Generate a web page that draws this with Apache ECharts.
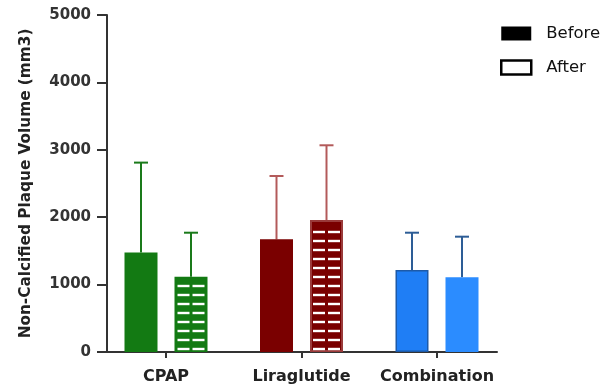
<!DOCTYPE html>
<html><head><meta charset="utf-8">
<script src="https://cdn.jsdelivr.net/npm/echarts@6/dist/echarts.min.js"></script>
<style>html,body{margin:0;padding:0;background:#fff}#c{width:610px;height:385px}</style>
</head><body><div id="c"></div>
<script>
const categories = ['CPAP', 'Liraglutide', 'Combination'];
const beforeMean = [1475, 1672, 1217];
const beforeUpper = [2810, 2611, 1770];
const afterMean = [1117, 1958, 1108];
const afterUpper = [1770, 3067, 1711];
const hatchedAfter = [true, true, false];
const yAxisName = 'Non-Calcified Plaque Volume (mm3)';
const legendNames = ['Before', 'After'];

const BAR_W = 33, GAP_PX = 17;
const fillColors = ['#137a13', '#7a0000', '#1f7ef5'];
const afterBase = ['#137a13', '#7a0000', '#2b8cff'];
const afterBorder = ['#137a13', '#9a3a3a', '#2b8cff'];
const errColors = ['#1a7a1a', '#b35a5a', '#2d5d96'];

const beforeData = beforeMean.map((v, i) => ({
  value: v,
  itemStyle: { color: fillColors[i], borderColor: i === 2 ? '#1d5aa8' : fillColors[i], borderWidth: 1.5 }
}));
const afterData = afterMean.map((v, i) => ({
  value: v,
  itemStyle: { color: afterBase[i], borderColor: afterBorder[i], borderWidth: hatchedAfter[i] ? 2 : 0 }
}));

function errSeries(name, mean, upper, sign) {
  return {
    type: 'custom', name: name, xAxisIndex: 0, yAxisIndex: 0, z: 1,
    data: mean.map((m, i) => [i, m, upper[i]]),
    renderItem: function (params, api) {
      const i = api.value(0);
      const off = sign * (BAR_W + GAP_PX) / 2;
      const p0 = api.coord([i, api.value(1)]);
      const p1 = api.coord([i, api.value(2)]);
      const x = p0[0] + off;
      const st = { stroke: errColors[i], lineWidth: 2 };
      return { type: 'group', children: [
        { type: 'line', shape: { x1: x, y1: p0[1], x2: x, y2: p1[1] }, style: st },
        { type: 'line', shape: { x1: x - 7, y1: p1[1], x2: x + 7, y2: p1[1] }, style: st }
      ]};
    }
  };
}

const hatchSeries = {
  type: 'custom', name: 'hatch', xAxisIndex: 0, yAxisIndex: 0, z: 3, silent: true,
  data: afterMean.map((m, i) => [i, m, hatchedAfter[i] ? 1 : 0]),
  renderItem: function (params, api) {
    if (!api.value(2)) return { type: 'group', children: [] };
    const i = api.value(0);
    const top = api.coord([i, api.value(1)]);
    const base = api.coord([i, 0]);
    const cx = top[0] + (BAR_W + GAP_PX) / 2;
    const x0 = cx - BAR_W / 2;
    const kids = [];
    for (let y = base[1] - 3; y > top[1] + 7; y -= 9) {
      kids.push({ type: 'rect', shape: { x: x0 + 3, y: y - 1.2, width: BAR_W / 2 - 4.5, height: 2.4 }, style: { fill: '#fff' } });
      kids.push({ type: 'rect', shape: { x: cx + 1.5, y: y - 1.2, width: BAR_W / 2 - 4.5, height: 2.4 }, style: { fill: '#fff' } });
    }
    return { type: 'group', children: kids };
  }
};

const chart = echarts.init(document.getElementById('c'));
chart.setOption({
  animation: false,
  backgroundColor: '#fff',
  grid: [
    { left: 98.25, width: 406.5, top: 15, height: 337 },
    { left: 107, width: 390, top: 15, height: 337 }
  ],
  legend: {
    orient: 'vertical', left: 500, top: 25, padding: 0, itemWidth: 30, itemHeight: 14, itemGap: 17,
    data: [
      { name: legendNames[0], icon: 'rect', itemStyle: { color: '#000' } },
      { name: legendNames[1], icon: 'rect', itemStyle: { color: '#fff', borderColor: '#000', borderWidth: 2.5 } }
    ],
    textStyle: { fontFamily: 'DejaVu Sans', fontSize: 16.5, color: '#111', padding: [0, 0, 0, 10] }
  },
  xAxis: [
    {
      type: 'category', gridIndex: 0, data: categories,
      axisLine: { show: false },
      axisTick: { show: true, alignWithLabel: true, length: 6, lineStyle: { color: '#333', width: 2 } },
      axisLabel: { interval: 0, margin: 17, fontFamily: 'DejaVu Sans', fontWeight: 'bold', fontSize: 16, color: '#222' }
    },
    {
      type: 'value', gridIndex: 1, min: 0, max: 1,
      axisLine: { show: true, lineStyle: { color: '#333', width: 2 } },
      axisTick: { show: false }, axisLabel: { show: false }, splitLine: { show: false }
    }
  ],
  yAxis: [
    { type: 'value', gridIndex: 0, min: 0, max: 5000, show: false, splitLine: { show: false } },
    {
      type: 'value', gridIndex: 1, min: 0, max: 5000, interval: 1000,
      name: yAxisName, nameLocation: 'middle', nameGap: 73,
      nameTextStyle: { fontFamily: 'DejaVu Sans', fontWeight: 'bold', fontSize: 15.3, color: '#222' },
      axisLine: { show: true, lineStyle: { color: '#333', width: 2 } },
      axisTick: { show: true, length: 10, lineStyle: { color: '#333', width: 2 } },
      axisLabel: { margin: 16, fontFamily: 'DejaVu Sans', fontWeight: 'bold', fontSize: 15, color: '#333',
        formatter: function (v) { return String(v); } },
      splitLine: { show: false }
    }
  ],
  series: [
    errSeries('errBefore', beforeMean, beforeUpper, -1),
    errSeries('errAfter', afterMean, afterUpper, 1),
    { type: 'bar', name: legendNames[0], xAxisIndex: 0, yAxisIndex: 0, barWidth: BAR_W, barGap: (GAP_PX / BAR_W * 100) + '%', data: beforeData, z: 2 },
    { type: 'bar', name: legendNames[1], xAxisIndex: 0, yAxisIndex: 0, barWidth: BAR_W, data: afterData, z: 2 },
    hatchSeries
  ]
});
</script></body></html>
